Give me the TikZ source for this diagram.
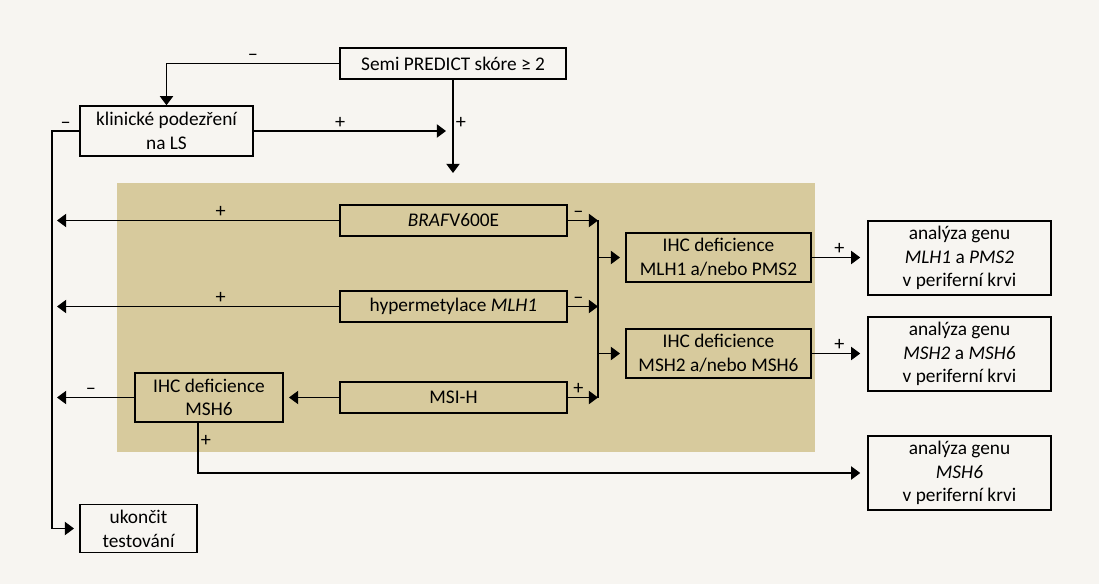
\documentclass[tikz,border=0pt]{standalone}
\usepackage{fontspec}
\setmainfont{Carlito}
\usepackage{tikz}
\usetikzlibrary{arrows.meta,positioning}
\definecolor{paper}{HTML}{F7F5F1}
\definecolor{khaki}{HTML}{D7CA9D}

\begin{document}
\begin{tikzpicture}[x=0.02cm,y=-0.02cm,>={Triangle[length=5.2pt,width=7.5pt]},
  every node/.style={font=\fontsize{11}{13.5}\selectfont},
  box/.style={draw,line width=0.85pt,align=center,inner sep=1pt},
  sign/.style={font=\fontsize{11.5}{12}\selectfont,inner sep=1.2pt},
  every path/.style={line width=0.85pt}]
\useasboundingbox (0,0) rectangle (1099,584);
\fill[paper] (0,0) rectangle (1099,584);
\fill[khaki] (117,183) rectangle (815,452);
% boxes
\node[box,minimum width=4.52cm,minimum height=0.62cm] (semi) at (453,63.5) {Semi PREDICT skóre ≥ 2};
\node[box,minimum width=3.46cm,minimum height=1cm] (klin) at (166.5,131) {klinické podezření\\na LS};
\node[box,minimum width=2.34cm,minimum height=0.96cm] (stop) at (138.5,528.5) {ukončit\\testování};
\node[box,minimum width=4.54cm,minimum height=0.62cm] (braf) at (453.5,220.5) {\textit{BRAF}V600E};
\node[box,minimum width=4.54cm,minimum height=0.62cm] (hyper) at (453.5,306.5) {hypermetylace \textit{MLH1}};
\node[box,minimum width=4.54cm,minimum height=0.62cm] (msi) at (453.5,397.5) {MSI-H};
\node[box,minimum width=2.96cm,minimum height=0.98cm] (ihcsix) at (209,397.5) {IHC deficience\\MSH6};
\node[box,minimum width=3.7cm,minimum height=0.98cm] (ihcone) at (718.5,257.5) {IHC deficience\\MLH1 a/nebo PMS2};
\node[box,minimum width=3.7cm,minimum height=0.98cm] (ihctwo) at (718.5,353.5) {IHC deficience\\MSH2 a/nebo MSH6};
\node[box,minimum width=3.66cm,minimum height=1.48cm] (genone) at (959.5,258) {analýza genu\\\textit{MLH1} a \textit{PMS2}\\v periferní krvi};
\node[box,minimum width=3.66cm,minimum height=1.48cm] (gentwo) at (959.5,354) {analýza genu\\\textit{MSH2} a \textit{MSH6}\\v periferní krvi};
\node[box,minimum width=3.66cm,minimum height=1.48cm] (gensix) at (959.5,473) {analýza genu\\\textit{MSH6}\\v periferní krvi};
% free ends
\coordinate (join) at (446,131);
\coordinate (entry) at (453,173);
\coordinate (rail) at (52,131);
\coordinate (outbraf) at (57,220.5);
\coordinate (outhyper) at (57,306.5);
\coordinate (outsix) at (57,397.5);
\coordinate (bt) at (598,220.5);
\coordinate (bb) at (598,397.5);
% top part
\draw[->] (semi.west) -| (klin.north) node[pos=0.25,above,sign]{–};
\draw[->] (semi) -- (entry) node[pos=0.46,right,sign]{+};
\draw[->] (klin) -- (join) node[pos=0.45,above,sign]{+};
\draw[->,shorten >=3pt] (klin.west) -- (rail) node[midway,above,sign]{–} |- (stop.west);
% left outputs
\draw[->] (braf) -- (outbraf) node[pos=0.42,above,sign]{+};
\draw[->] (hyper) -- (outhyper) node[pos=0.42,above,sign]{+};
\draw[->,shorten >=3pt] (msi) -- (ihcsix);
\draw[->] (ihcsix) -- (outsix) node[pos=0.56,above,sign]{–};
\draw[->,shorten >=4pt] ([xshift=-0.22cm]ihcsix.south) |- (gensix.west) node[pos=0.18,right,sign]{+};
% bracket
\draw (bt) -- (bb);
\draw[->] (braf.east) -- (bt) node[pos=0.35,above,sign]{–};
\draw[->] (hyper.east) -- (hyper.east -| bt) node[pos=0.35,above,sign]{–};
\draw[->] (msi.east) -- (bb) node[pos=0.35,above,sign]{+};
\draw[->,shorten >=3pt] (bt |- ihcone) -- (ihcone);
\draw[->,shorten >=3pt] (bt |- ihctwo) -- (ihctwo);
\draw[->,shorten >=4pt] (ihcone.east) -- (ihcone.east -| genone.west) node[pos=0.5,above,sign]{+};
\draw[->,shorten >=4pt] (ihctwo.east) -- (ihctwo.east -| gentwo.west) node[pos=0.5,above,sign]{+};
\end{tikzpicture}
\end{document}
